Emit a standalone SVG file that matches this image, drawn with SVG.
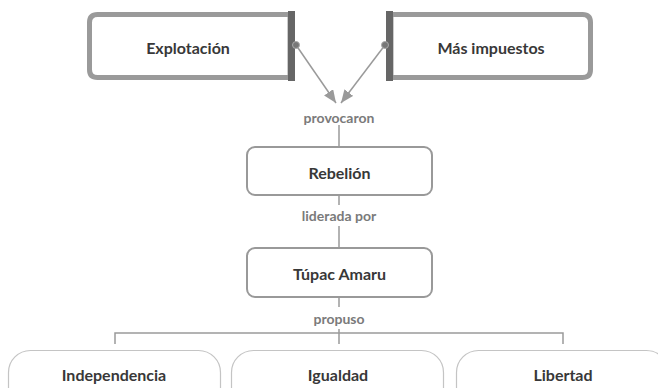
<svg xmlns="http://www.w3.org/2000/svg" width="658" height="388" viewBox="0 0 658 388">
<style>
.node{font-family:Lato,"Open Sans",sans-serif;font-size:16px;font-weight:bold;fill:#383838;text-anchor:middle;dominant-baseline:central}
.lbl{font-family:Lato,"Open Sans",sans-serif;font-size:14px;font-weight:bold;fill:#7a7a7a;text-anchor:middle;dominant-baseline:central}
.ln{stroke:#9a9a9a;stroke-width:1.5;fill:none}
.thick{stroke:#9a9a9a;stroke-width:5;fill:#fff}
.mid{stroke:#999;stroke-width:2;fill:#fff}
.thin{stroke:#c4c4c4;stroke-width:1.2;fill:#fff}
</style>
<defs>
<marker id="ah" markerUnits="userSpaceOnUse" markerWidth="13" markerHeight="11" refX="13" refY="5.5" orient="auto">
<path d="M0,0 L13,5.5 L0,11 z" fill="#9a9a9a"/>
</marker>
</defs>
<g id="connectors">
<line class="ln" x1="296" y1="45" x2="336" y2="103" marker-end="url(#ah)"/>
<line class="ln" x1="385" y1="45" x2="341" y2="103" marker-end="url(#ah)"/>
<line class="ln" x1="339" y1="125" x2="339" y2="147"/>
<line class="ln" x1="339" y1="195" x2="339" y2="205"/>
<line class="ln" x1="339" y1="226" x2="339" y2="248"/>
<line class="ln" x1="339" y1="297" x2="339" y2="307"/>
<path class="ln" d="M115 344 V333 H563 V344 M339 333 V344"/>
<line class="ln" x1="339" y1="329" x2="339" y2="333"/>
</g>
<g id="label-provocaron"><text class="lbl" x="339" y="117">provocaron</text></g>
<g id="label-liderada"><text class="lbl" x="339" y="215">liderada por</text></g>
<g id="label-propuso"><text class="lbl" x="339" y="318">propuso</text></g>
<g id="node-explotacion">
<path class="thick" d="M290 14.5 H97.5 Q89.5 14.5 89.5 22.5 V69.5 Q89.5 77.5 97.5 77.5 H290 Z"/>
<rect x="288" y="11" width="7" height="70" fill="#666"/>
<circle cx="296" cy="45" r="3.5" fill="#777" stroke="#aaa" stroke-width="1"/>
<text class="node" x="188" y="47">Explotación</text>
</g>
<g id="node-impuestos">
<path class="thick" d="M391 14.5 H582.5 Q590.5 14.5 590.5 22.5 V69.5 Q590.5 77.5 582.5 77.5 H391 Z"/>
<rect x="386" y="11" width="7" height="70" fill="#666"/>
<circle cx="385" cy="45" r="3.5" fill="#777" stroke="#aaa" stroke-width="1"/>
<text class="node" x="491" y="47">Más impuestos</text>
</g>
<g id="node-rebelion">
<rect class="mid" x="247" y="147" width="185" height="48" rx="8"/>
<text class="node" x="339.5" y="172">Rebelión</text>
</g>
<g id="node-tupac">
<rect class="mid" x="247" y="248" width="185" height="49" rx="8"/>
<text class="node" x="339.5" y="273">Túpac Amaru</text>
</g>
<g id="node-independencia">
<rect class="thin" x="8.5" y="350.5" width="212" height="60" rx="22"/>
<text class="node" x="114" y="374">Independencia</text>
</g>
<g id="node-igualdad">
<rect class="thin" x="231.5" y="350.5" width="212" height="60" rx="22"/>
<text class="node" x="338" y="374">Igualdad</text>
</g>
<g id="node-libertad">
<rect class="thin" x="456.5" y="350.5" width="212" height="60" rx="22"/>
<text class="node" x="563" y="374">Libertad</text>
</g>
</svg>
